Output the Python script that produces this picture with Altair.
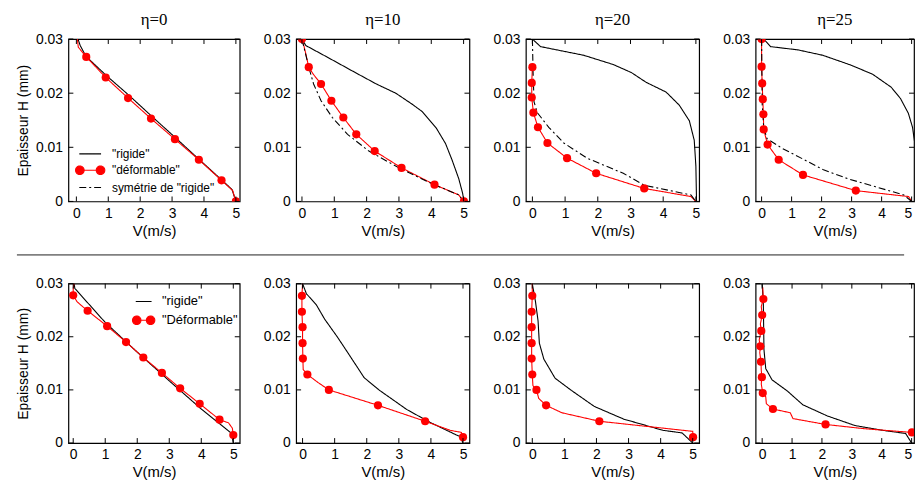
import altair as alt
import pandas as pd

FONT = "Liberation Sans"
SERIF = "Liberation Serif"

X_TICKS = [0, 1, 2, 3, 4, 5]
Y_TICKS = [0, 0.01, 0.02, 0.03]
TITLES = ["η=0", "η=10", "η=20", "η=25"]
TOP_LABELS = ['"rigide"', '"déformable"', 'symétrie de "rigide"']
BOT_LABELS = ['"rigide"', '"Déformable"']

# ---------------- top row ----------------
# eta = 0
T0_RIG_V = [0.05, 0.12, 0.3, 0.95, 1.65, 2.35, 3.1, 3.84, 4.55, 4.88, 5.0]
T0_RIG_H = [0.030, 0.0288, 0.0268, 0.0232, 0.0196, 0.0158, 0.0118, 0.0078, 0.0040, 0.0022, 0.0]
T0_DEF_V = [0.03, 0.06, 0.31, 0.92, 1.62, 2.34, 3.09, 3.84, 4.55, 4.9, 5.0]
T0_DEF_H = [0.030, 0.0285, 0.0267, 0.0229, 0.0191, 0.0153, 0.0115, 0.0077, 0.0039, 0.002, 0.0]
T0_DOT_V = [0.31, 0.92, 1.62, 2.34, 3.09, 3.84, 4.55, 5.0]
T0_DOT_H = [0.0267, 0.0229, 0.0191, 0.0153, 0.0115, 0.0077, 0.0039, 0.0]

# eta = 10
T1_RIG_V = [0.0, 0.12, 0.8, 1.56, 2.3, 2.9, 3.4, 3.72, 4.16, 4.44, 4.64, 4.85, 4.97, 5.01]
T1_RIG_H = [0.030, 0.0288, 0.0266, 0.0241, 0.0217, 0.020, 0.018, 0.0166, 0.0135, 0.0107, 0.0077, 0.0042, 0.0015, 0.0]
T1_DEF_V = [0.0, 0.07, 0.13, 0.21, 0.35, 0.59, 0.91, 1.28, 1.68, 2.25, 3.08, 4.10, 4.85, 5.0]
T1_DEF_H = [0.030, 0.0285, 0.027, 0.0248, 0.0235, 0.0217, 0.0186, 0.0155, 0.0124, 0.0093, 0.0062, 0.0031, 0.0012, 0.0]
T1_DOT_V = [0.0, 0.21, 0.59, 0.91, 1.28, 1.68, 2.25, 3.08, 4.10, 5.01]
T1_DOT_H = [0.030, 0.0248, 0.0217, 0.0186, 0.0155, 0.0124, 0.0093, 0.0062, 0.0031, 0.0]
T1_SYM_V = [0.0, 0.21, 0.36, 0.59, 0.94, 1.41, 2.07, 3.0, 4.05, 4.85, 5.0]
T1_SYM_H = [0.030, 0.0248, 0.0217, 0.0186, 0.0155, 0.0124, 0.0093, 0.0062, 0.0032, 0.0012, 0.0]

# eta = 20
T2_RIG_V = [0.0, 0.25, 1.57, 2.47, 3.03, 3.48, 4.09, 4.49, 4.8, 4.95, 5.0, 5.02]
T2_RIG_H = [0.030, 0.0286, 0.0270, 0.0253, 0.0238, 0.0220, 0.0202, 0.0178, 0.0149, 0.0113, 0.0065, 0.0]
T2_DEF_V = [0.0, -0.02, -0.02, 0.03, 0.17, 0.46, 1.06, 1.95, 3.42, 4.85, 5.0]
T2_DEF_H = [0.0248, 0.0219, 0.0192, 0.0164, 0.0137, 0.0108, 0.0080, 0.0052, 0.0024, 0.0009, 0.0]
T2_DOT_V = [0.0, -0.02, -0.02, 0.03, 0.17, 0.46, 1.06, 1.95, 3.42]
T2_DOT_H = [0.0248, 0.0219, 0.0192, 0.0164, 0.0137, 0.0108, 0.0080, 0.0052, 0.0024]
T2_SYM_V = [0.0, 0.02, 0.05, 0.15, 0.5, 0.96, 1.67, 2.78, 3.42, 4.85, 5.0]
T2_SYM_H = [0.030, 0.024, 0.0184, 0.0164, 0.0137, 0.0108, 0.0080, 0.0052, 0.0030, 0.0012, 0.0]

# eta = 25
T3_RIG_V = [0.07, 0.3, 1.21, 2.04, 2.97, 3.70, 4.32, 4.63, 4.89, 5.03, 5.15]
T3_RIG_H = [0.030, 0.0286, 0.0280, 0.0270, 0.0252, 0.0235, 0.0211, 0.0190, 0.0163, 0.0137, 0.009]
T3_DEF_V = [0.0, 0.0, 0.02, 0.04, 0.06, 0.07, 0.20, 0.57, 1.38, 3.14, 4.9, 5.0]
T3_DEF_H = [0.030, 0.0249, 0.0218, 0.0189, 0.0161, 0.0133, 0.0105, 0.0077, 0.0049, 0.0020, 0.0009, 0.0]
T3_DOT_V = [0.0, 0.0, 0.02, 0.04, 0.06, 0.07, 0.20, 0.57, 1.38, 3.14]
T3_DOT_H = [0.030, 0.0249, 0.0218, 0.0189, 0.0161, 0.0133, 0.0105, 0.0077, 0.0049, 0.0020]
T3_SYM_V = [0.0, 0.02, 0.07, 0.18, 0.69, 1.32, 2.04, 2.87, 3.8, 4.74, 5.0]
T3_SYM_H = [0.030, 0.018, 0.0137, 0.0116, 0.0098, 0.0080, 0.0059, 0.0042, 0.0027, 0.0012, 0.0]

# ---------------- bottom row ----------------
B0_RIG_V = [0.03, 0.05, 1.0, 2.0, 3.0, 4.0, 4.95, 5.0]
B0_RIG_H = [0.030, 0.0291, 0.0227, 0.0171, 0.0117, 0.0064, 0.0018, 0.0]
B0_DEF_V = [0.02, 0.0, 0.0, 0.12, 0.27, 0.45, 1.06, 1.65, 2.19, 2.77, 3.34, 3.95, 4.57, 4.85, 4.97, 5.0]
B0_DEF_H = [0.030, 0.029, 0.0278, 0.0266, 0.0258, 0.0249, 0.0220, 0.0190, 0.0161, 0.0132, 0.0103, 0.0074, 0.0044, 0.0038, 0.0028, 0.0015]
B0_DOT_V = [0.0, 0.45, 1.06, 1.65, 2.19, 2.77, 3.34, 3.95, 4.57, 5.0]
B0_DOT_H = [0.0278, 0.0249, 0.0220, 0.0190, 0.0161, 0.0132, 0.0103, 0.0074, 0.0044, 0.0015]

B1_RIG_V = [0.0, 0.12, 0.43, 0.69, 1.08, 1.41, 1.92, 2.38, 3.25, 3.97, 4.8, 4.92, 5.0]
B1_RIG_H = [0.030, 0.0281, 0.026, 0.0233, 0.020, 0.017, 0.0123, 0.010, 0.0063, 0.0039, 0.0015, 0.0012, 0.0]
B1_DEF_V = [0.0, -0.02, -0.02, 0.0, 0.0, 0.01, 0.02, 0.15, 0.48, 0.82, 2.35, 3.82, 4.6, 4.95, 5.0]
B1_DEF_H = [0.030, 0.0277, 0.0247, 0.0218, 0.0188, 0.0159, 0.0138, 0.0129, 0.0114, 0.0100, 0.0071, 0.0041, 0.0024, 0.0020, 0.0011]
B1_DOT_V = [-0.02, -0.02, 0.0, 0.0, 0.01, 0.15, 0.82, 2.35, 3.82, 5.0]
B1_DOT_H = [0.0277, 0.0247, 0.0218, 0.0188, 0.0159, 0.0129, 0.0100, 0.0071, 0.0041, 0.0011]

B2_RIG_V = [0.0, 0.1, 0.18, 0.22, 0.36, 0.71, 1.22, 1.93, 2.85, 4.07, 4.67, 5.0]
B2_RIG_H = [0.030, 0.0266, 0.023, 0.0188, 0.0158, 0.0122, 0.0099, 0.0069, 0.0045, 0.0024, 0.0019, 0.0]
B2_DEF_V = [0.0, 0.0, -0.02, -0.02, -0.02, -0.02, 0.0, 0.02, 0.13, 0.2, 0.43, 0.92, 2.09, 5.0, 5.01]
B2_DEF_H = [0.030, 0.0277, 0.0247, 0.0218, 0.0188, 0.0159, 0.0129, 0.0108, 0.0100, 0.0084, 0.0071, 0.0057, 0.0041, 0.0022, 0.0011]
B2_DOT_V = [0.0, -0.02, -0.02, -0.02, -0.02, 0.0, 0.13, 0.43, 2.09, 5.01]
B2_DOT_H = [0.0277, 0.0247, 0.0218, 0.0188, 0.0159, 0.0129, 0.0100, 0.0071, 0.0041, 0.0011]

B3_RIG_V = [0.0, 0.04, 0.06, 0.12, 0.33, 0.84, 1.36, 2.18, 3.1, 4.02, 4.8, 5.0]
B3_RIG_H = [0.030, 0.026, 0.0176, 0.014, 0.0119, 0.0098, 0.0072, 0.0051, 0.0033, 0.0024, 0.0018, 0.0]
B3_DEF_V = [0.02, 0.04, -0.03, 0.0, -0.06, -0.03, -0.10, -0.06, -0.08, -0.04, -0.03, -0.01, -0.03,
            0.02, 0.12, 0.14, 0.36, 0.94, 1.03, 2.12, 3.41, 5.01]
B3_DEF_H = [0.0293, 0.0271, 0.0257, 0.0241, 0.0224, 0.0211, 0.0194, 0.0182, 0.0170, 0.0153, 0.0137, 0.0124, 0.0111,
            0.0094, 0.0087, 0.0074, 0.0064, 0.0057, 0.0046, 0.0035, 0.0027, 0.0020]
B3_DOT_V = [0.04, 0.0, -0.03, -0.06, -0.04, -0.01, 0.02, 0.36, 2.12, 5.01]
B3_DOT_H = [0.0271, 0.0241, 0.0211, 0.0182, 0.0153, 0.0124, 0.0094, 0.0064, 0.0035, 0.0020]

# x-domains of each panel (read from the frames)
TOP_XDOM = [[-0.25, 5.12], [-0.18, 5.18], [-0.2, 5.1], [-0.2, 5.08]]
BOT_XDOM = [[-0.15, 5.2], [-0.2, 5.2], [-0.2, 5.2], [-0.22, 5.08]]
WIDTHS = [173, 175, 175, 160]
TOP_H = 164
BOT_H = 161
TICK = 5


def line_path(L):
    return f"M{-L},0L{L},0"


def dot_path(L, c, r):
    return (f"M{-L},0L{L},0"
            f"M{-c - r},0A{r},{r},0,1,0,{-c + r},0A{r},{r},0,1,0,{-c - r},0Z"
            f"M{c - r},0A{r},{r},0,1,0,{c + r},0A{r},{r},0,1,0,{c - r},0Z")


def make_legend(lx, ly, size, fsize, loff, rpad):
    return alt.Legend(
        title=None, orient="none", legendX=lx, legendY=ly,
        symbolSize=size, symbolStrokeWidth=1.2, symbolOpacity=1, labelFont=FONT, labelFontSize=fsize,
        labelColor="black", labelOffset=loff, rowPadding=rpad, padding=0,
    )


def panel(series, dots, labels, shapes, xdom, width, height, first, legend, title, flush):
    rows = []
    for name, (v, h) in zip(labels, series):
        if v is None:
            continue
        for i, (a, b) in enumerate(zip(v, h)):
            rows.append({"V": a, "H": b, "s": name, "i": i})
    lines_df = pd.DataFrame(rows)
    dots_df = pd.DataFrame({"V": dots[0], "H": dots[1]})
    xs = alt.Scale(domain=xdom, nice=False, zero=False)
    ys = alt.Scale(domain=[0, 0.03], nice=False, zero=False)
    xaxis = alt.Axis(values=X_TICKS, format="d", title="V(m/s)", titleFont=FONT, titleFontSize=15,
                     titleFontWeight="normal", titleColor="black", titlePadding=3,
                     labelFont=FONT, labelFontSize=14, labelColor="black", labelPadding=5,
                     ticks=False, tickSize=0, domain=False, grid=False,
                     labelFlush=4 if flush else False)
    ykw = dict(values=Y_TICKS, format="~g", labelFont=FONT, labelFontSize=14, labelColor="black",
               labelPadding=6, ticks=False, tickSize=0, domain=False, grid=False)
    if first:
        yaxis = alt.Axis(title="Epaisseur H (mm)", titleFont=FONT, titleFontSize=14,
                         titleFontWeight="normal", titleColor="black", titlePadding=5, **ykw)
    else:
        yaxis = alt.Axis(title=None, **ykw)
    X = lambda f: alt.X(f, scale=xs, axis=xaxis)
    Y = lambda f: alt.Y(f, scale=ys, axis=yaxis)
    n = len(labels)
    stroke_sc = alt.Scale(domain=labels, range=["black", "red", "black"][:n])
    dash_sc = alt.Scale(domain=labels, range=[[1, 0], [1, 0], [7, 3, 2, 3]][:n])
    width_sc = alt.Scale(domain=labels, range=[1.1, 1.1, 1.6][:n])
    fill_sc = alt.Scale(domain=labels, range=["transparent", "red", "transparent"][:n])
    shape_sc = alt.Scale(domain=labels, range=shapes[:n])

    lines = alt.Chart(lines_df).mark_line(clip=True).encode(
        x=X("V:Q"), y=Y("H:Q"),
        stroke=alt.Stroke("s:N", scale=stroke_sc, legend=legend),
        strokeDash=alt.StrokeDash("s:N", scale=dash_sc, legend=legend),
        strokeWidth=alt.StrokeWidth("s:N", scale=width_sc, legend=None),
        order="i:Q", detail="s:N",
    )
    pts = alt.Chart(dots_df).mark_point(filled=True, color="red", size=68, opacity=1,
                                        strokeWidth=0, clip=True).encode(x=X("V:Q"), y=Y("H:Q"))
    xt = pd.DataFrame({"V": X_TICKS})
    yt = pd.DataFrame({"H": Y_TICKS})
    rule = dict(color="black", strokeWidth=1)
    xb = alt.Chart(xt).mark_rule(**rule).encode(
        x=X("V:Q"), y=alt.value(height), y2=alt.value(height - TICK))
    xtop = alt.Chart(xt).mark_rule(**rule).encode(
        x=X("V:Q"), y=alt.value(0), y2=alt.value(TICK))
    yl = alt.Chart(yt).mark_rule(**rule).encode(
        y=Y("H:Q"), x=alt.value(0), x2=alt.value(TICK))
    yr = alt.Chart(yt).mark_rule(**rule).encode(
        y=Y("H:Q"), x=alt.value(width), x2=alt.value(width - TICK))
    layers = [lines, pts, xb, xtop, yl, yr]
    if legend is not None:
        # legend-only layer: its rows are all filtered out, the legend comes from the scales
        leg = alt.Chart(lines_df).transform_filter("false").mark_point(
            filled=True, opacity=1, strokeWidth=1.2).encode(
            x=X("V:Q"), y=Y("H:Q"),
            stroke=alt.Stroke("s:N", scale=stroke_sc, legend=legend),
            strokeDash=alt.StrokeDash("s:N", scale=dash_sc, legend=legend),
            fill=alt.Fill("s:N", scale=fill_sc, legend=legend),
            shape=alt.Shape("s:N", scale=shape_sc, legend=legend),
        )
        layers.append(leg)
    ch = alt.layer(*layers).properties(width=width, height=height)
    if title is not None:
        ch = ch.properties(title=alt.Title(title, font=SERIF, fontSize=17, fontWeight="normal",
                                           color="black", offset=3))
    return ch


top_series = [
    ([(T0_RIG_V, T0_RIG_H), (T0_DEF_V, T0_DEF_H), (None, None)], (T0_DOT_V, T0_DOT_H)),
    ([(T1_RIG_V, T1_RIG_H), (T1_DEF_V, T1_DEF_H), (T1_SYM_V, T1_SYM_H)], (T1_DOT_V, T1_DOT_H)),
    ([(T2_RIG_V, T2_RIG_H), (T2_DEF_V, T2_DEF_H), (T2_SYM_V, T2_SYM_H)], (T2_DOT_V, T2_DOT_H)),
    ([(T3_RIG_V, T3_RIG_H), (T3_DEF_V, T3_DEF_H), (T3_SYM_V, T3_SYM_H)], (T3_DOT_V, T3_DOT_H)),
]
bot_series = [
    ([(B0_RIG_V, B0_RIG_H), (B0_DEF_V, B0_DEF_H)], (B0_DOT_V, B0_DOT_H)),
    ([(B1_RIG_V, B1_RIG_H), (B1_DEF_V, B1_DEF_H)], (B1_DOT_V, B1_DOT_H)),
    ([(B2_RIG_V, B2_RIG_H), (B2_DEF_V, B2_DEF_H)], (B2_DOT_V, B2_DOT_H)),
    ([(B3_RIG_V, B3_RIG_H), (B3_DEF_V, B3_DEF_H)], (B3_DOT_V, B3_DOT_H)),
]

TOP_SHAPES = [line_path(1.22), dot_path(1.22, 1.16, 0.48), line_path(1.22)]
BOT_SHAPES = [line_path(1.14), dot_path(1.14, 1.0, 0.61)]
top_legend = make_legend(12, 106, 324, 12, 12, 0.5)
bot_legend = make_legend(68, 10, 196, 13, 10.5, 4)

top_panels = []
for k in range(4):
    s, d = top_series[k]
    top_panels.append(panel(s, d, TOP_LABELS, TOP_SHAPES, TOP_XDOM[k], WIDTHS[k], TOP_H, k == 0,
                            top_legend if k == 0 else None, TITLES[k], k == 3))
bot_panels = []
for k in range(4):
    s, d = bot_series[k]
    bot_panels.append(panel(s, d, BOT_LABELS, BOT_SHAPES, BOT_XDOM[k], WIDTHS[k], BOT_H, k == 0,
                            bot_legend if k == 0 else None, None, k == 3))

IND = dict(stroke="independent", strokeDash="independent", fill="independent", shape="independent",
           strokeWidth="independent")
top_row = alt.hconcat(*top_panels, spacing=21).resolve_scale(**IND)
bot_row = alt.hconcat(*bot_panels, spacing=21).resolve_scale(**IND)

# separator line between the two rows (its view is aligned with the plot areas)
SEP_W = 840
sep = alt.Chart(pd.DataFrame({"k": [0]})).mark_rule(color="#808080", strokeWidth=1.6).encode(
    x=alt.value(-52), x2=alt.value(SEP_W + 4), y=alt.value(5)
).properties(width=SEP_W, height=15, view=alt.ViewBackground(stroke="transparent"))

chart = alt.vconcat(top_row, sep, bot_row, spacing=10).resolve_scale(**IND).properties(
    padding={"left": 7, "top": 0, "right": 0, "bottom": 0}
).configure(font=FONT).configure_view(stroke="black", strokeWidth=1.2)

chart.save("out.html", embed_options={"renderer": "svg", "actions": False})
